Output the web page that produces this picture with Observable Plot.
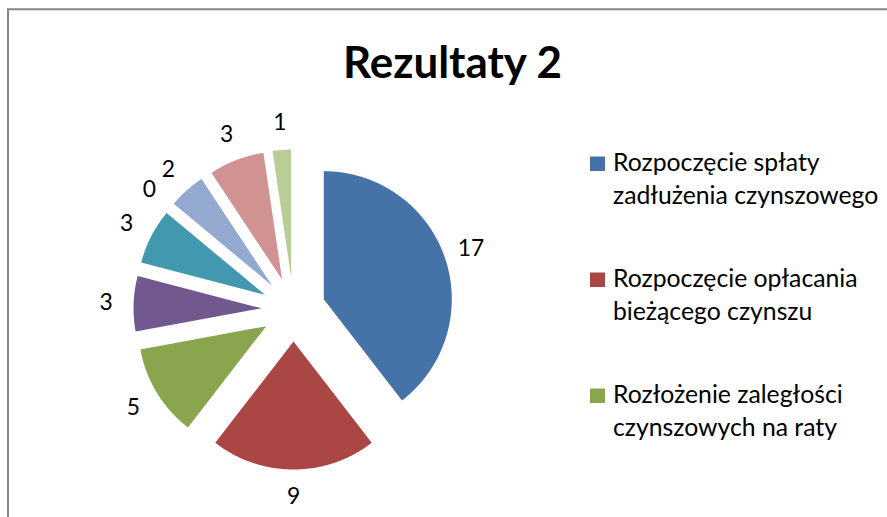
<!DOCTYPE html>
<html>
<head>
<meta charset="utf-8">
<script src="https://cdn.jsdelivr.net/npm/d3@7"></script>
<script src="https://cdn.jsdelivr.net/npm/@observablehq/plot@0.6"></script>
<style>
  html, body { margin: 0; padding: 0; background: #fff; overflow: hidden; }
  #wrap { position: relative; width: 887px; height: 517px; }
  #wrap > svg { position: absolute; left: 0; top: 0; }
</style>
</head>
<body>
<div id="wrap"></div>
<script>
// ---- data ----
const title = "Rezultaty 2";
const categories = [
  "Rozpoczęcie spłaty zadłużenia czynszowego",
  "Rozpoczęcie opłacania bieżącego czynszu",
  "Rozłożenie zaległości czynszowych na raty",
  "Kategoria 4", "Kategoria 5", "Kategoria 6",
  "Kategoria 7", "Kategoria 8", "Kategoria 9"
];
const values = [17, 9, 5, 3, 3, 0, 2, 3, 1];
const colors = ["#4572A7", "#AA4643", "#89A54E", "#71588F", "#4198AF", "#DB843D", "#93A9CF", "#D19392", "#B9CD96"];
const legendLines = [
  ["Rozpoczęcie spłaty", "zadłużenia czynszowego"],
  ["Rozpoczęcie opłacania", "bieżącego czynszu"],
  ["Rozłożenie zaległości", "czynszowych na raty"]
];

// ---- layout ----
const W = 887, H = 517;
const CX = 293, CY = 309, R = 128;       // pie center / radius in pixels
const EXPLODE = 0.25;                     // explosion as fraction of radius
const LABEL_R = 1.465;                    // label distance (radius units)
const FONT = "Lato, 'Open Sans', sans-serif";

function inkSize(text, weight, target) {
  const ctx = document.createElement("canvas").getContext("2d");
  ctx.font = `${weight} 100px ${FONT}`;
  const m = ctx.measureText(text);
  const w = (m.actualBoundingBoxLeft + m.actualBoundingBoxRight) || m.width;
  return 100 * target / w;
}

// pie angles (clockwise from north)
const pie = d3.pie().sort(null).value(d => d)(values);
const slices = [], labels = [];
pie.forEach((p, i) => {
  const a0 = p.startAngle, a1 = p.endAngle, m = (a0 + a1) / 2;
  const dx = EXPLODE * Math.sin(m), dy = EXPLODE * Math.cos(m);
  labels.push({cat: categories[i], value: values[i], x: LABEL_R * Math.sin(m), y: LABEL_R * Math.cos(m)});
  if (a1 - a0 <= 0) return;
  const pts = [{cat: categories[i], x: dx, y: dy}];
  const n = Math.max(4, Math.ceil((a1 - a0) / 0.01));
  for (let k = 0; k <= n; k++) {
    const t = a0 + (a1 - a0) * k / n;
    pts.push({cat: categories[i], x: dx + Math.sin(t), y: dy + Math.cos(t)});
  }
  pts.push({cat: categories[i], x: dx, y: dy});
  slices.push({color: colors[i], pts});
});

const labelSize = inkSize("17", 400, 24);

const chart = Plot.plot({
  width: W, height: H,
  margin: 0,
  x: {type: "linear", domain: [-CX / R, (W - CX) / R], axis: null},
  y: {type: "linear", domain: [(CY - H) / R, CY / R], axis: null},
  style: {background: "transparent"},
  marks: [
    ...slices.map(s => Plot.line(s.pts, {x: "x", y: "y", fill: s.color, stroke: "none", curve: "linear"})),
    Plot.text(labels, {x: "x", y: "y", text: d => String(d.value), fill: "#000",
      fontSize: labelSize, fontFamily: FONT, textAnchor: "middle", lineAnchor: "middle"})
  ]
});
document.getElementById("wrap").appendChild(chart);

// ---- overlay: title, legend, chart-area border ----
const ov = d3.select("#wrap").append("svg")
  .attr("width", W).attr("height", H)
  .style("pointer-events", "none");

ov.append("path")
  .attr("d", `M8,${H + 5} L8,9.3 L${W + 5},9.3`)
  .attr("fill", "none").attr("stroke", "#868686").attr("stroke-width", 2);

const titleSize = inkSize(title, 700, 215);
ov.append("text")
  .attr("x", 452.5).attr("y", 78)
  .attr("text-anchor", "middle")
  .attr("font-family", FONT).attr("font-weight", 700)
  .attr("font-size", titleSize)
  .attr("fill", "#000")
  .text(title);

const legendSize = inkSize("zadłużenia czynszowego", 400, 264);
const baselines = [171, 287, 403];
legendLines.forEach((lines, i) => {
  const g = ov.append("g");
  g.append("rect")
    .attr("x", 590).attr("y", baselines[i] - 14.5)
    .attr("width", 15).attr("height", 14.5)
    .attr("fill", colors[i]);
  lines.forEach((ln, j) => {
    g.append("text")
      .attr("x", 613).attr("y", baselines[i] + j * 33)
      .attr("font-family", FONT).attr("font-size", legendSize)
      .attr("fill", "#000")
      .text(ln);
  });
});
</script>
</body>
</html>
